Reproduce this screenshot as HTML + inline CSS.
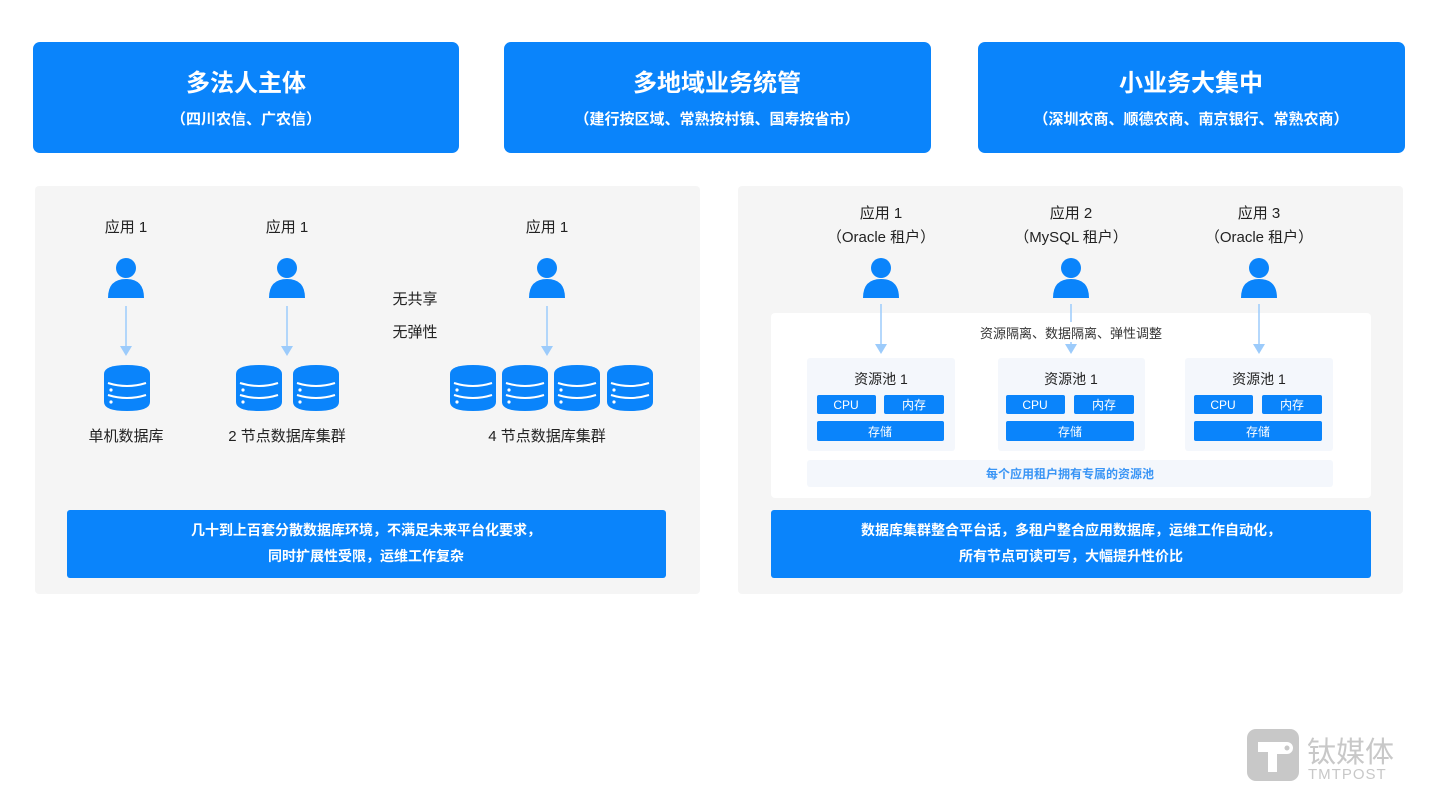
<!DOCTYPE html>
<html><head><meta charset="utf-8"><style>
html,body{margin:0;padding:0;background:#fff;}
svg{display:block;}
text{font-family:"Liberation Sans","Noto Sans CJK SC",sans-serif;}
</style></head><body>
<svg width="1440" height="809" viewBox="0 0 1440 809" xmlns="http://www.w3.org/2000/svg">
<defs>
<symbol id="p" viewBox="0 0 40 42" overflow="visible">
<circle cx="20" cy="10" r="10" fill="#0a84fb"/>
<path d="M2 40 Q2 21 20 21 Q38 21 38 40 Z" fill="#0a84fb"/>
</symbol>
<symbol id="db" viewBox="0 0 46 46" overflow="visible">
<path d="M0 9 Q0 0 23 0 Q46 0 46 9 L46 37 Q46 46 23 46 Q0 46 0 37 Z" fill="#0a84fb"/>
<path d="M4 18 Q23 24 42 18" stroke="#fff" stroke-width="2" fill="none"/>
<path d="M4 30 Q23 36 42 30" stroke="#fff" stroke-width="2" fill="none"/>
<circle cx="7" cy="25" r="1.6" fill="#fff"/>
<circle cx="7" cy="37" r="1.6" fill="#fff"/>
</symbol>
<symbol id="ar" viewBox="0 0 14 52" overflow="visible">
<line x1="7" y1="0" x2="7" y2="42" stroke="#9ccbfb" stroke-width="1.5"/>
<path d="M1 40 L13 40 L7 50 Z" fill="#9ccbfb"/>
</symbol>
</defs>

<!-- top boxes -->
<rect x="33" y="42" width="426" height="111" rx="7" fill="#0a84fb"/>
<rect x="504" y="42" width="427" height="111" rx="7" fill="#0a84fb"/>
<rect x="978" y="42" width="427" height="111" rx="7" fill="#0a84fb"/>
<g fill="#fff" text-anchor="middle" font-weight="bold">
<text x="246" y="91" font-size="24">多法人主体</text>
<text x="246" y="124" font-size="15">（四川农信、广农信）</text>
<text x="717" y="91" font-size="24">多地域业务统管</text>
<text x="717" y="124" font-size="15">（建行按区域、常熟按村镇、国寿按省市）</text>
<text x="1191" y="91" font-size="24">小业务大集中</text>
<text x="1191" y="124" font-size="15">（深圳农商、顺德农商、南京银行、常熟农商）</text>
</g>

<!-- panels -->
<rect x="35" y="186" width="665" height="408" rx="4" fill="#f5f5f5"/>
<rect x="738" y="186" width="665" height="408" rx="4" fill="#f5f5f5"/>

<!-- left panel -->
<g fill="#222" text-anchor="middle" font-size="15">
<text x="126" y="232">应用 1</text>
<text x="287" y="232">应用 1</text>
<text x="547" y="232">应用 1</text>
<text x="126" y="441">单机数据库</text>
<text x="287" y="441">2 节点数据库集群</text>
<text x="547" y="441">4 节点数据库集群</text>
<text x="415" y="304">无共享</text>
<text x="415" y="337">无弹性</text>
</g>
<use href="#p" x="106" y="258" width="40" height="42"/>
<use href="#p" x="267" y="258" width="40" height="42"/>
<use href="#p" x="527" y="258" width="40" height="42"/>
<use href="#ar" x="119" y="306" width="14" height="52"/>
<use href="#ar" x="280" y="306" width="14" height="52"/>
<use href="#ar" x="540" y="306" width="14" height="52"/>
<use href="#db" x="104" y="365" width="46" height="46"/>
<use href="#db" x="236" y="365" width="46" height="46"/>
<use href="#db" x="293" y="365" width="46" height="46"/>
<use href="#db" x="450" y="365" width="46" height="46"/>
<use href="#db" x="502" y="365" width="46" height="46"/>
<use href="#db" x="554" y="365" width="46" height="46"/>
<use href="#db" x="607" y="365" width="46" height="46"/>
<rect x="67" y="510" width="599" height="68" rx="3" fill="#0a84fb"/>
<g fill="#fff" text-anchor="middle" font-size="14" font-weight="bold">
<text x="366" y="535">几十到上百套分散数据库环境，不满足未来平台化要求，</text>
<text x="366" y="561">同时扩展性受限，运维工作复杂</text>
</g>

<!-- right panel -->
<g fill="#222" text-anchor="middle" font-size="15">
<text x="881" y="218">应用 1</text>
<text x="881" y="242">（Oracle 租户）</text>
<text x="1071" y="218">应用 2</text>
<text x="1071" y="242">（MySQL 租户）</text>
<text x="1259" y="218">应用 3</text>
<text x="1259" y="242">（Oracle 租户）</text>
</g>
<use href="#p" x="861" y="258" width="40" height="42"/>
<use href="#p" x="1051" y="258" width="40" height="42"/>
<use href="#p" x="1239" y="258" width="40" height="42"/>
<rect x="771" y="313" width="600" height="185" rx="4" fill="#fff"/>
<use href="#ar" x="874" y="304" width="14" height="52"/>
<use href="#ar" x="1064" y="304" width="14" height="52"/>
<use href="#ar" x="1252" y="304" width="14" height="52"/>
<rect x="1040" y="322" width="62" height="20" fill="#fff"/>
<text x="1071" y="338" text-anchor="middle" font-size="13" fill="#333">资源隔离、数据隔离、弹性调整</text>

<g>
<rect x="807" y="358" width="148" height="93" rx="3" fill="#f4f7fc"/>
<rect x="998" y="358" width="147" height="93" rx="3" fill="#f4f7fc"/>
<rect x="1185" y="358" width="148" height="93" rx="3" fill="#f4f7fc"/>
</g>
<g fill="#222" text-anchor="middle" font-size="14">
<text x="881" y="384">资源池 1</text>
<text x="1071" y="384">资源池 1</text>
<text x="1259" y="384">资源池 1</text>
</g>
<g fill="#0a84fb">
<rect x="817" y="395" width="59" height="19" rx="2"/>
<rect x="884" y="395" width="60" height="19" rx="2"/>
<rect x="817" y="421" width="127" height="20" rx="2"/>
<rect x="1006" y="395" width="59" height="19" rx="2"/>
<rect x="1074" y="395" width="60" height="19" rx="2"/>
<rect x="1006" y="421" width="128" height="20" rx="2"/>
<rect x="1194" y="395" width="59" height="19" rx="2"/>
<rect x="1262" y="395" width="60" height="19" rx="2"/>
<rect x="1194" y="421" width="128" height="20" rx="2"/>
</g>
<g fill="#fff" text-anchor="middle" font-size="12">
<text x="846" y="409">CPU</text><text x="914" y="409">内存</text><text x="880" y="436">存储</text>
<text x="1035" y="409">CPU</text><text x="1104" y="409">内存</text><text x="1070" y="436">存储</text>
<text x="1223" y="409">CPU</text><text x="1292" y="409">内存</text><text x="1258" y="436">存储</text>
</g>
<rect x="807" y="460" width="526" height="27" rx="3" fill="#f4f7fc"/>
<text x="1070" y="478" text-anchor="middle" font-size="12" font-weight="bold" fill="#3a95f5">每个应用租户拥有专属的资源池</text>
<rect x="771" y="510" width="600" height="68" rx="3" fill="#0a84fb"/>
<g fill="#fff" text-anchor="middle" font-size="14" font-weight="bold">
<text x="1071" y="535">数据库集群整合平台话，多租户整合应用数据库，运维工作自动化，</text>
<text x="1071" y="561">所有节点可读可写，大幅提升性价比</text>
</g>

<!-- watermark -->
<rect x="1247" y="729" width="52" height="52" rx="9" fill="#c8c8c8"/>
<path d="M1258 742 H1287 A6 6 0 0 1 1287 754 H1277 V772 H1268 V752 H1258 Z" fill="#fff"/>
<circle cx="1287" cy="748" r="2.5" fill="#c8c8c8"/>
<text x="1307" y="762" font-size="29" fill="#c8c8c8">钛媒体</text>
<text x="1308" y="779" font-size="15" fill="#c8c8c8" letter-spacing="1">TMTPOST</text>
</svg>
</body></html>
